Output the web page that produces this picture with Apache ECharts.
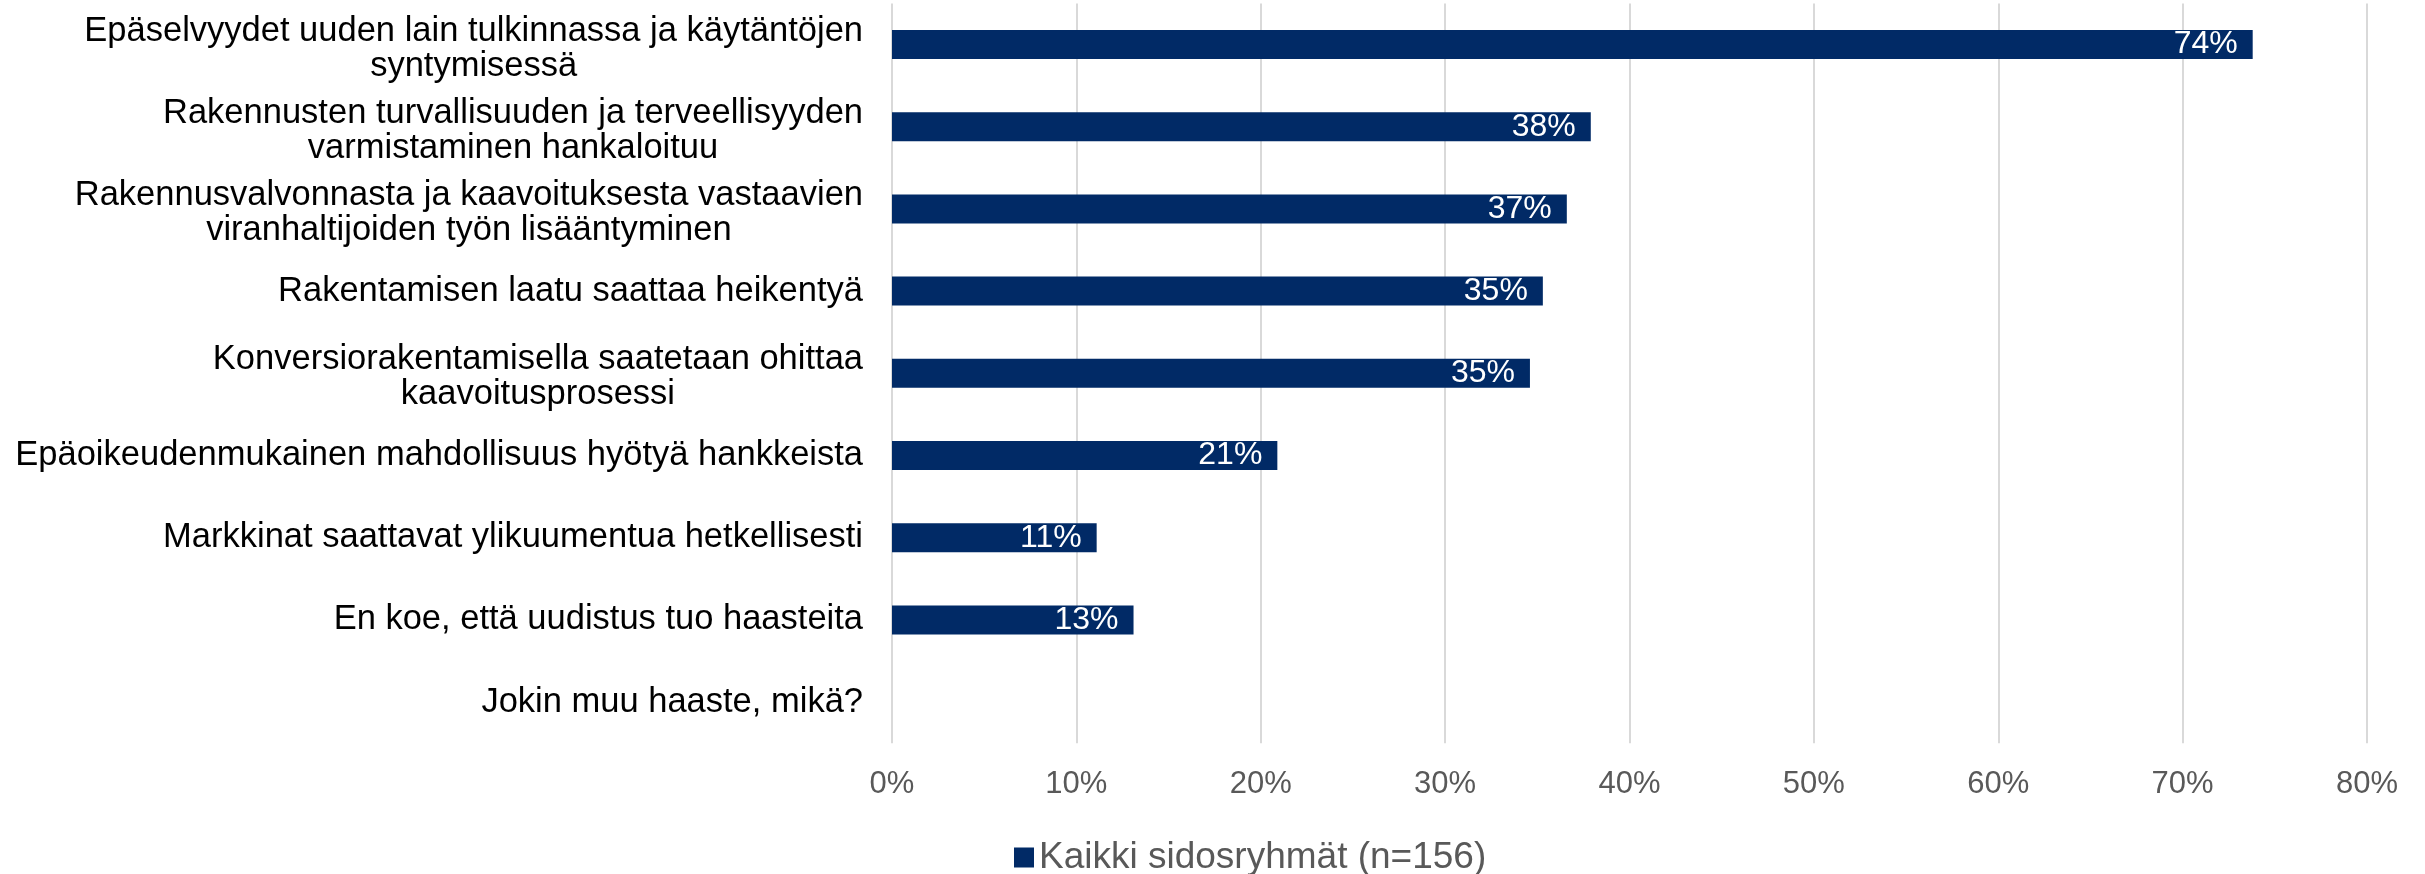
<!DOCTYPE html>
<html>
<head>
<meta charset="utf-8">
<script src="https://cdn.jsdelivr.net/npm/echarts@6/dist/echarts.min.js"></script>
<style>
html,body{margin:0;padding:0;background:#fff;}
#chart{width:2425px;height:874px;}
</style>
</head>
<body>
<div id="chart"></div>
<script>
const categories = [
  'Epäselvyydet uuden lain tulkinnassa ja käytäntöjen\nsyntymisessä',
  'Rakennusten turvallisuuden ja terveellisyyden\nvarmistaminen hankaloituu',
  'Rakennusvalvonnasta ja kaavoituksesta vastaavien\nviranhaltijoiden työn lisääntyminen',
  'Rakentamisen laatu saattaa heikentyä',
  'Konversiorakentamisella saatetaan ohittaa\nkaavoitusprosessi',
  'Epäoikeudenmukainen mahdollisuus hyötyä hankkeista',
  'Markkinat saattavat ylikuumentua hetkellisesti',
  'En koe, että uudistus tuo haasteita',
  'Jokin muu haaste, mikä?'
];
const seriesName = 'Kaikki sidosryhmät (n=156)';
const values = [73.8, 37.9, 36.6, 35.3, 34.6, 20.9, 11.1, 13.1, 0];
const tickValues = [0, 10, 20, 30, 40, 50, 60, 70, 80];

const chart = echarts.init(document.getElementById('chart'), null, {renderer: 'canvas'});
const FONT = 'Liberation Sans, Arial, sans-serif';
const catStyle = {align: 'center', fontFamily: FONT, fontSize: 34.5, color: '#000000', lineHeight: 35};
chart.setOption({
  animation: false,
  backgroundColor: '#ffffff',
  grid: {left: 892, right: 58, top: 3.4, bottom: 130.8, outerBoundsMode: 'none', containLabel: false},
  legend: {
    data: [seriesName],
    left: 1009,
    top: 834,
    icon: 'rect',
    itemWidth: 20,
    itemHeight: 20,
    itemGap: 6,
    textStyle: {fontFamily: FONT, fontSize: 37, color: '#595959', padding: [0,0,0,0]}
  },
  xAxis: {
    type: 'value',
    min: tickValues[0],
    max: tickValues[tickValues.length - 1],
    interval: 10,
    axisLine: {show: false},
    axisTick: {show: false},
    splitLine: {show: true, lineStyle: {color: '#d9d9d9', width: 2}},
    axisLabel: {
      formatter: v => v + '%',
      fontFamily: FONT, fontSize: 31, color: '#595959', margin: 26
    }
  },
  yAxis: {
    type: 'category',
    inverse: true,
    data: categories,
    axisLine: {show: false},
    axisTick: {show: false},
    splitLine: {show: false},
    axisLabel: {
      margin: 29,
      align: 'right',
      formatter: v => {
        const lines = v.split('\n');
        if (lines.length === 1) return '{c|' + lines[0] + '}';
        return lines.map((l, i) => (i === 0 ? '{f|' : '{c|') + l + '}').join('\n');
      },
      rich: {
        c: catStyle,
        f: Object.assign({}, catStyle, {lineHeight: 43, verticalAlign: 'bottom'})
      }
    }
  },
  series: [{
    name: seriesName,
    type: 'bar',
    data: values,
    barWidth: 29,
    itemStyle: {color: '#012a66'},
    label: {
      show: true,
      position: 'insideRight',
      distance: 15,
      formatter: p => p.value > 0 ? Math.round(p.value) + '%' : '',
      fontFamily: FONT, fontSize: 32, color: '#ffffff'
    }
  }]
});
</script>
</body>
</html>
